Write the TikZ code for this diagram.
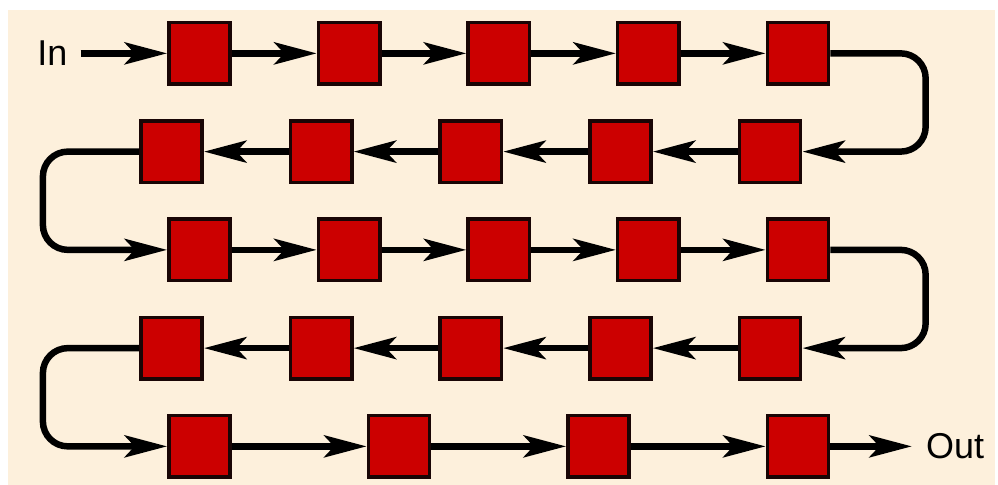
\documentclass[tikz,border=0pt]{standalone}
\usepackage{fontspec}
\setmainfont{Liberation Sans}
\usetikzlibrary{arrows.meta}
\definecolor{paper}{RGB}{253,240,220}
\definecolor{cellred}{RGB}{204,0,0}
\definecolor{cellline}{RGB}{25,5,5}

\begin{document}
\begin{tikzpicture}
  [x=0.02cm,y=-0.02cm,
   cell/.style={rectangle,draw=cellline,fill=cellred,line width=0.07cm,
                minimum size=1.23cm,inner sep=0pt},
   lbl/.style={font=\fontsize{20.5}{24}\selectfont,inner ysep=0pt},
   flow/.style={line width=0.13cm,
                -{Stealth[length=0.85cm,width=0.44cm,inset=0.2cm]}},
   wire/.style={rounded corners=0.5cm}]
  \fill[white] (0,0) rectangle (998,486);
  \fill[paper] (8,10) rectangle (998,486);

  % the five rows of cells
  \foreach \c in {1,...,5} {
    \node[cell] (r1\c) at ({50+150*\c},53.5) {};
    \node[cell] (r2\c) at ({22+150*\c},152) {};
    \node[cell] (r3\c) at ({50+150*\c},250.5) {};
    \node[cell] (r4\c) at ({22+150*\c},349) {};
  }
  \foreach \c in {1,...,4}
    \node[cell] (r5\c) at ({0+200*\c},447.5) {};

  \node[lbl,inner xsep=0.26cm] (in) at (52.5,53.5) {In};
  \node[lbl,inner xsep=0.28cm] (out) at (957.5,447.5) {Out};

  % turning lines at the ends of the rows
  \coordinate (rgt) at (928,0);
  \coordinate (lft) at (43,0);

  \foreach \from/\to in {in/r11,r11/r12,r12/r13,r13/r14,r14/r15,
                         r25/r24,r24/r23,r23/r22,r22/r21,
                         r31/r32,r32/r33,r33/r34,r34/r35,
                         r45/r44,r44/r43,r43/r42,r42/r41,
                         r51/r52,r52/r53,r53/r54,r54/out}
    \draw[flow] (\from) -- (\to);

  \draw[flow,wire] (r15) -- (r15 -| rgt) -- (r25 -| rgt) -- (r25);
  \draw[flow,wire] (r21) -- (r21 -| lft) -- (r31 -| lft) -- (r31);
  \draw[flow,wire] (r35) -- (r35 -| rgt) -- (r45 -| rgt) -- (r45);
  \draw[flow,wire] (r41) -- (r41 -| lft) -- (r51 -| lft) -- (r51);

\end{tikzpicture}
\end{document}
